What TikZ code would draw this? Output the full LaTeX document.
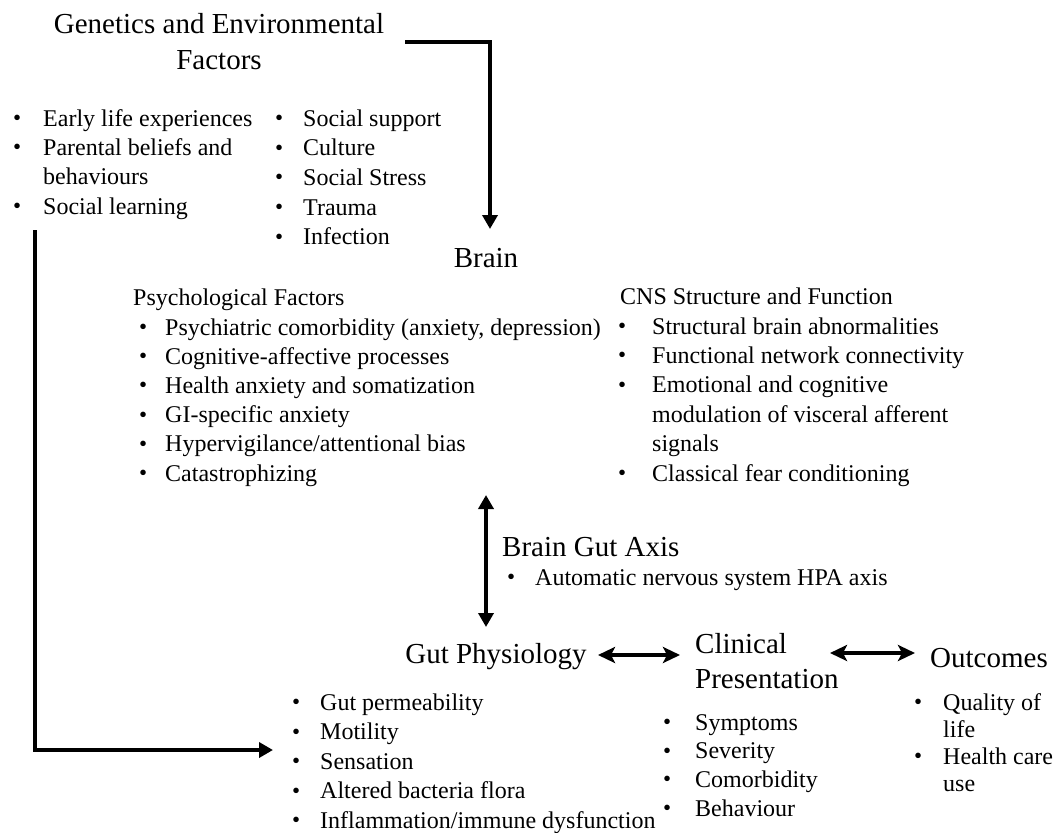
\documentclass[tikz,border=0pt]{standalone}
\usepackage{fontspec}
\setmainfont{Liberation Serif}
\usetikzlibrary{arrows.meta}
\newcommand\bul{\raisebox{0.5pt}{\fontsize{23}{23}\selectfont\textbullet}}
\newcommand\bi[1]{\makebox[#1pt][l]{\bul}}
\newcommand\nb[1]{\makebox[#1pt][l]{}}
\tikzset{
  txt/.style={inner sep=0pt, anchor=base west, font=\fontsize{24}{29.4}\selectfont},
  hd/.style={inner sep=0pt, anchor=base west, font=\fontsize{29}{36}\selectfont},
  thick arr/.style={line width=3.8pt, -{Triangle[width=15pt,length=14pt]}},
  dbl arr/.style={line width=3.8pt, {Stealth[width=16pt,length=17pt,inset=4pt]}-{Stealth[width=16pt,length=17pt,inset=4pt]}},
  vdbl arr/.style={line width=3.6pt, {Triangle[width=15pt,length=14pt]}-{Triangle[width=15pt,length=14pt]}}
}
\begin{document}
\begin{tikzpicture}[x=1pt,y=-1pt]
\useasboundingbox (0,0) rectangle (1058,833);
\fill[white] (0,0) rectangle (1058,833);

% Genetics title
\node[hd, anchor=base] (gen) at (219,33) {\begin{tabular}[t]{@{}c@{}}Genetics and Environmental\\Factors\end{tabular}};
\node[txt] (genL) at (13,126) {\begin{tabular}[t]{@{}l@{}l@{}}
\bi{30}&Early life experiences\\
\bi{30}&Parental beliefs and\\
\nb{30}&behaviours\\
\bi{30}&Social learning
\end{tabular}};
\node[txt, font=\fontsize{24}{29.7}\selectfont] (genR) at (275,126) {\begin{tabular}[t]{@{}l@{}l@{}}
\bi{28}&Social support\\
\bi{28}&Culture\\
\bi{28}&Social Stress\\
\bi{28}&Trauma\\
\bi{28}&Infection
\end{tabular}};

% Brain
\node[hd, anchor=base] (brain) at (486,267) {Brain};

\node[txt] (psyh) at (133,305) {Psychological Factors};
\node[txt, font=\fontsize{24}{29.2}\selectfont] (psy) at (139,335) {\begin{tabular}[t]{@{}l@{}l@{}}
\bi{26}&Psychiatric comorbidity (anxiety, depression)\\
\bi{26}&Cognitive-affective processes\\
\bi{26}&Health anxiety and somatization\\
\bi{26}&GI-specific anxiety\\
\bi{26}&Hypervigilance/attentional bias\\
\bi{26}&Catastrophizing
\end{tabular}};

\node[txt] (cnsh) at (620,304) {CNS Structure and Function};
\node[txt, font=\fontsize{24}{29.4}\selectfont] (cns) at (618,334) {\begin{tabular}[t]{@{}l@{}l@{}}
\bi{34}&Structural brain abnormalities\\
\bi{34}&Functional network connectivity\\
\bi{34}&Emotional and cognitive\\
\nb{34}&modulation of visceral afferent\\
\nb{34}&signals\\
\bi{34}&Classical fear conditioning
\end{tabular}};

% Brain Gut Axis
\node[hd] (bga) at (502,556) {Brain Gut Axis};
\node[txt] (bgal) at (507,585) {\begin{tabular}[t]{@{}l@{}l@{}}
\bi{28}&Automatic nervous system HPA axis
\end{tabular}};

% Gut physiology
\node[hd, anchor=base] (gut) at (496,663) {Gut Physiology};
\node[txt, font=\fontsize{24}{29.5}\selectfont] (gutl) at (292,710) {\begin{tabular}[t]{@{}l@{}l@{}}
\bi{28}&Gut permeability\\
\bi{28}&Motility\\
\bi{28}&Sensation\\
\bi{28}&Altered bacteria flora\\
\bi{28}&Inflammation/immune dysfunction
\end{tabular}};

% Clinical presentation
\node[hd, font=\fontsize{29}{35}\selectfont] (clin) at (695,653) {\begin{tabular}[t]{@{}l@{}}Clinical\\Presentation\end{tabular}};
\node[txt, font=\fontsize{24}{28.7}\selectfont] (clinl) at (663,730) {\begin{tabular}[t]{@{}l@{}l@{}}
\bi{32}&Symptoms\\
\bi{32}&Severity\\
\bi{32}&Comorbidity\\
\bi{32}&Behaviour
\end{tabular}};

% Outcomes
\node[hd] (out) at (930,667) {Outcomes};
\node[txt, font=\fontsize{24}{27}\selectfont] (outl) at (914,710) {\begin{tabular}[t]{@{}l@{}l@{}}
\bi{29}&Quality of\\
\nb{29}&life\\
\bi{29}&Health care\\
\nb{29}&use
\end{tabular}};

% connectors
\coordinate (genout) at (405,42);
\coordinate (brainin) at (490,229);
\draw[thick arr] (genout) -| (brainin);

\coordinate (lstart) at (35,230);
\coordinate (gutin) at (273,750);
\draw[thick arr] (lstart) |- (gutin);

\coordinate (bgtop) at (486,495);
\coordinate (bgbot) at (486,627);
\draw[vdbl arr] (bgtop) -- (bgbot);

\coordinate (gc1) at (598,655);
\coordinate (gc2) at (680,655);
\draw[dbl arr] (gc1) -- (gc2);

\coordinate (co1) at (830,653);
\coordinate (co2) at (915,653);
\draw[dbl arr] (co1) -- (co2);
\end{tikzpicture}
\end{document}
